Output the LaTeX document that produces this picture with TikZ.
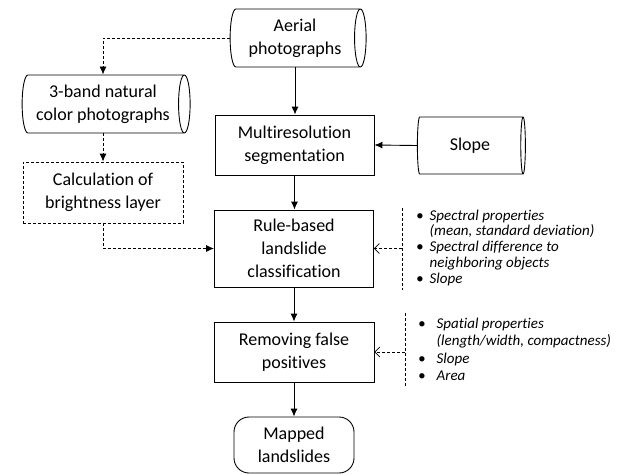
\documentclass[tikz,border=0pt]{standalone}
\usepackage{fontspec}
\setmainfont{Carlito}[Ligatures=NoCommon]
\usetikzlibrary{shapes.geometric,arrows.meta}
\tikzset{
  datastore/.style={cylinder, draw, line width=0.9pt, aspect=0.3, align=center, inner sep=0pt},
  process/.style={rectangle, draw, line width=0.9pt, align=center, inner sep=0pt},
  flow/.style={-{Latex[length=8pt,width=7pt]}, line width=0.9pt},
  dflow/.style={flow, dash pattern=on 3pt off 2pt},
  hint/.style={-{Straight Barb[length=5pt,width=10pt]}, line width=0.7pt, dash pattern=on 3pt off 2pt},
  bar/.style={line width=0.7pt, dash pattern=on 3pt off 2pt},
  notes/.style={anchor=west, inner sep=0pt, font=\fontsize{15}{15.8}\selectfont\itshape}
}
\begin{document}
\begin{tikzpicture}[x=1pt, y=-1pt, every node/.append style={font=\fontsize{18}{23}\selectfont}]
  \useasboundingbox (0,0) rectangle (621,474);
  % Inputs
  \node[datastore, minimum height=136pt, minimum width=58pt] (aerial) at (295,38) {Aerial\\photographs};
  \node[datastore, minimum height=168pt, minimum width=58pt] (band) at (103,104) {3-band natural\\color photographs};
  \node[datastore, minimum height=108pt, minimum width=57pt] (slope) at (470,145.5) {Slope};
  % Processing steps
  \node[process, minimum width=159pt, minimum height=60pt] (multi) at (294.5,145) {Multiresolution\\segmentation};
  \node[process, dash pattern=on 3pt off 2pt, minimum width=160pt, minimum height=61pt] (calc) at (103,192.5) {Calculation of\\brightness layer};
  \node[process, minimum width=159pt, minimum height=77pt] (rule) at (294,248.5) {Rule-based\\landslide\\classification};
  \node[process, minimum width=160pt, minimum height=60pt] (remove) at (294,352) {Removing false\\positives};
  \node[process, rounded corners=15pt, minimum width=120pt, minimum height=56pt] (mapped) at (294,445) {Mapped\\landslides};
  % Main flow
  \draw[flow] (aerial.south) -- (aerial.south |- multi.north);
  \draw[flow] (slope.west) -- (multi.east);
  \draw[flow] (multi.south) -- (multi.south |- rule.north);
  \draw[flow] (rule.south) -- (rule.south |- remove.north);
  \draw[flow] (remove.south) -- (remove.south |- mapped.north);
  % Brightness branch
  \draw[dflow] (aerial.west) -| (band.north);
  \draw[dflow] (band.south) -- (band.south |- calc.north);
  \draw[dflow] (calc.south) |- (rule.west);
  % Rule sets
  \coordinate (bartop1) at (402,208);
  \coordinate (barbot1) at (402,290);
  \draw[bar] (bartop1) -- (barbot1);
  \draw[hint] (bartop1 |- rule.east) -- (rule.east);
  \node[notes] (rules1) at (416,248.5) {\begin{tabular}{@{}l@{\hspace{6pt}}l@{}}
    \textbullet & Spectral properties\\
                & (mean, standard deviation)\\
    \textbullet & Spectral difference to\\
                & neighboring objects\\
    \textbullet & Slope
  \end{tabular}};
  \coordinate (bartop2) at (405,313);
  \coordinate (barbot2) at (405,387);
  \draw[bar] (bartop2) -- (barbot2);
  \draw[hint] (bartop2 |- remove.east) -- (remove.east);
  \node[notes, font=\fontsize{15}{17.6}\selectfont\itshape] (rules2) at (418,351) {\begin{tabular}{@{}l@{\hspace{11pt}}l@{}}
    \textbullet & Spatial properties\\
                & (length/width, compactness)\\
    \textbullet & Slope\\
    \textbullet & Area
  \end{tabular}};
\end{tikzpicture}
\end{document}
